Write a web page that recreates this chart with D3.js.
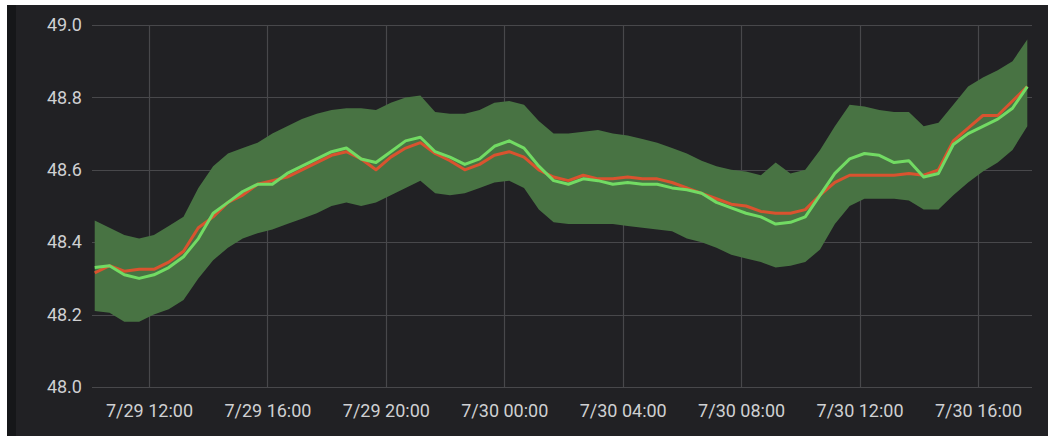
<!DOCTYPE html>
<html><head><meta charset="utf-8">
<script src="https://cdn.jsdelivr.net/npm/d3@7"></script>
<style>
html,body{margin:0;padding:0;background:#fff;}
svg{display:block;}
</style></head>
<body>
<svg id="chart" width="1048" height="436"></svg>
<script>
// ---- data (30-minute samples starting 7/29 10:10) ----
const startTime = "2019-07-29T10:10:00Z";
const stepMinutes = 30;
const greenSeries = [48.33,48.335,48.31,48.30,48.31,48.33,48.36,48.41,48.48,48.51,48.54,48.56,48.56,48.59,48.61,48.63,48.65,48.66,48.63,48.62,48.65,48.68,48.69,48.65,48.635,48.615,48.63,48.665,48.68,48.66,48.61,48.57,48.56,48.575,48.57,48.56,48.565,48.56,48.56,48.55,48.545,48.535,48.51,48.495,48.48,48.47,48.45,48.455,48.47,48.53,48.59,48.63,48.645,48.64,48.62,48.625,48.58,48.59,48.67,48.70,48.72,48.74,48.77,48.83];
const redSeries = [48.315,48.335,48.32,48.325,48.325,48.345,48.375,48.44,48.47,48.51,48.53,48.56,48.57,48.58,48.60,48.62,48.64,48.65,48.63,48.60,48.635,48.66,48.675,48.645,48.625,48.60,48.615,48.64,48.65,48.635,48.60,48.58,48.57,48.585,48.575,48.575,48.58,48.575,48.575,48.565,48.55,48.535,48.52,48.505,48.50,48.485,48.48,48.48,48.49,48.53,48.565,48.585,48.585,48.585,48.585,48.59,48.585,48.60,48.68,48.715,48.75,48.75,48.79,48.83];
const upperBand = [48.46,48.44,48.42,48.41,48.42,48.445,48.47,48.55,48.61,48.645,48.66,48.675,48.70,48.72,48.74,48.755,48.765,48.77,48.77,48.765,48.785,48.80,48.805,48.76,48.755,48.755,48.765,48.785,48.79,48.78,48.735,48.70,48.70,48.705,48.71,48.70,48.695,48.685,48.675,48.66,48.645,48.625,48.61,48.60,48.595,48.585,48.62,48.59,48.60,48.655,48.72,48.78,48.775,48.765,48.76,48.76,48.72,48.73,48.78,48.83,48.855,48.875,48.90,48.96];
const lowerBand = [48.21,48.205,48.18,48.18,48.20,48.215,48.24,48.30,48.35,48.385,48.41,48.425,48.435,48.45,48.465,48.48,48.50,48.51,48.50,48.51,48.53,48.55,48.57,48.535,48.53,48.535,48.55,48.565,48.57,48.55,48.49,48.455,48.45,48.45,48.45,48.45,48.445,48.44,48.435,48.43,48.41,48.40,48.385,48.365,48.355,48.345,48.33,48.335,48.345,48.38,48.45,48.50,48.52,48.52,48.52,48.515,48.49,48.49,48.53,48.565,48.595,48.62,48.655,48.72];
const yTicks = [48.0,48.2,48.4,48.6,48.8,49.0];
const xTickTimes = ["2019-07-29T12:00:00Z","2019-07-29T16:00:00Z","2019-07-29T20:00:00Z","2019-07-30T00:00:00Z","2019-07-30T04:00:00Z","2019-07-30T08:00:00Z","2019-07-30T12:00:00Z","2019-07-30T16:00:00Z"];
const xDomain = ["2019-07-29T10:04:30Z","2019-07-30T17:49:30Z"];

// ---- layout ----
const svg = d3.select("#chart");
const W = 1048, H = 436;
const plot = {left: 92, right: 1032, top: 25, bottom: 387};

svg.append("rect").attr("x",0).attr("y",0).attr("width",W).attr("height",H).attr("fill","#ffffff");
svg.append("rect").attr("x",7).attr("y",5).attr("width",W-7).attr("height",H-5).attr("fill","#212124");
svg.append("rect").attr("x",7).attr("y",5).attr("width",9).attr("height",H-5).attr("fill","#161719");

const t0 = new Date(startTime).getTime();
const times = greenSeries.map((_, i) => new Date(t0 + i*stepMinutes*60000));

const x = d3.scaleUtc().domain(xDomain.map(d => new Date(d))).range([plot.left, plot.right]);
const y = d3.scaleLinear().domain([48, 49]).range([plot.bottom, plot.top]);

// grid
const grid = svg.append("g");
grid.selectAll("line.h").data(yTicks).join("line")
  .attr("x1", plot.left).attr("x2", plot.right)
  .attr("y1", d => Math.round(y(d))+0.5).attr("y2", d => Math.round(y(d))+0.5)
  .attr("stroke", "#48484b").attr("stroke-width", 1.2);
grid.selectAll("line.v").data(xTickTimes).join("line")
  .attr("x1", d => Math.round(x(new Date(d)))+0.5).attr("x2", d => Math.round(x(new Date(d)))+0.5)
  .attr("y1", plot.top).attr("y2", plot.bottom)
  .attr("stroke", "#48484b").attr("stroke-width", 1.2);

// axes
const yAxis = d3.axisLeft(y).tickValues(yTicks).tickFormat(d3.format(".1f")).tickSize(0).tickPadding(10);
const gy = svg.append("g").attr("transform", `translate(${plot.left},0)`).call(yAxis);
const xAxis = d3.axisBottom(x).tickValues(xTickTimes.map(d => new Date(d))).tickFormat(d3.utcFormat("%-m/%-d %H:%M")).tickSize(0).tickPadding(17);
const gx = svg.append("g").attr("transform", `translate(0,${plot.bottom})`).call(xAxis);
[gy, gx].forEach(g => {
  g.select(".domain").remove();
  g.selectAll("text").attr("fill", "#cfd0d2").attr("font-family", "Roboto, 'Noto Sans', sans-serif").attr("font-size", 18);
});

// band
const idx = d3.range(greenSeries.length);
const area = d3.area().curve(d3.curveLinear)
  .x(i => x(times[i])).y0(i => y(lowerBand[i])).y1(i => y(upperBand[i]));
svg.append("path").datum(idx).attr("d", area).attr("fill", "#487343");

const line = vals => d3.line().curve(d3.curveLinear).x(i => x(times[i])).y(i => y(vals[i]))(idx);
svg.append("path").attr("d", line(redSeries)).attr("fill","none").attr("stroke","#d9532f").attr("stroke-width",3).attr("stroke-linejoin","round");
svg.append("path").attr("d", line(greenSeries)).attr("fill","none").attr("stroke","#72db63").attr("stroke-width",3).attr("stroke-linejoin","round");
</script>
</body></html>
